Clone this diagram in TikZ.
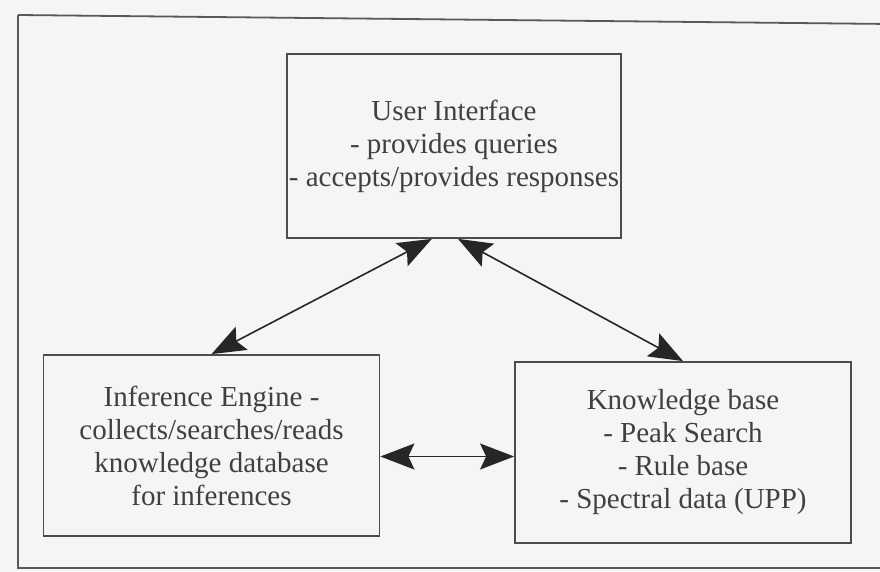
\documentclass[tikz,border=0pt]{standalone}
\usepackage{fontspec}
\setmainfont{Liberation Serif}
\usetikzlibrary{arrows.meta, calc, positioning}

\begin{document}
\begin{tikzpicture}[x=0.5pt, y=-0.5pt, >={Stealth[length=17pt,width=13pt,inset=3pt]}, semithick]
	\tikzset{block/.style={draw=black!70, line width=0.9pt, rectangle, align=center, text=black!75,
			font=\fontsize{14.5}{16.5}\selectfont, inner sep=0pt},
		link/.style={<->, draw=black!75, line width=0.8pt, color=black!85}}
	
	% background and outer frame
	\useasboundingbox (0,0) rectangle (880,572);
	\fill[black!4] (0,0) rectangle (880,572);
	\draw[black!65, line width=0.9pt] (18,15) -- (18,568) -- (890,568);
	\draw[black!65, line width=0.9pt] (18,15) -- (890,24);
	
	\node[block, minimum width=167pt, minimum height=92pt] (ui) at (454,146)
	{User Interface\\- provides queries\\- accepts/provides responses};
	\node[block, minimum width=168pt, minimum height=90.5pt] (ie) at (211.5,445.5)
	{Inference Engine -\\collects/searches/reads\\knowledge database\\for inferences};
	\node[block, minimum width=168pt, minimum height=90.5pt] (kb) at (683,452.5)
	{Knowledge base\\- Peak Search\\- Rule base\\- Spectral data (UPP)};
	
	\draw[link] ($(ui.south west)!0.434!(ui.south east)$) -- (ie.north);
	\draw[link] ($(ui.south west)!0.512!(ui.south east)$) -- (kb.north);
	\draw[link] ($(ie.east)+(0,11)$) -- ($(kb.west)+(0,4)$);
\end{tikzpicture}
\end{document}
